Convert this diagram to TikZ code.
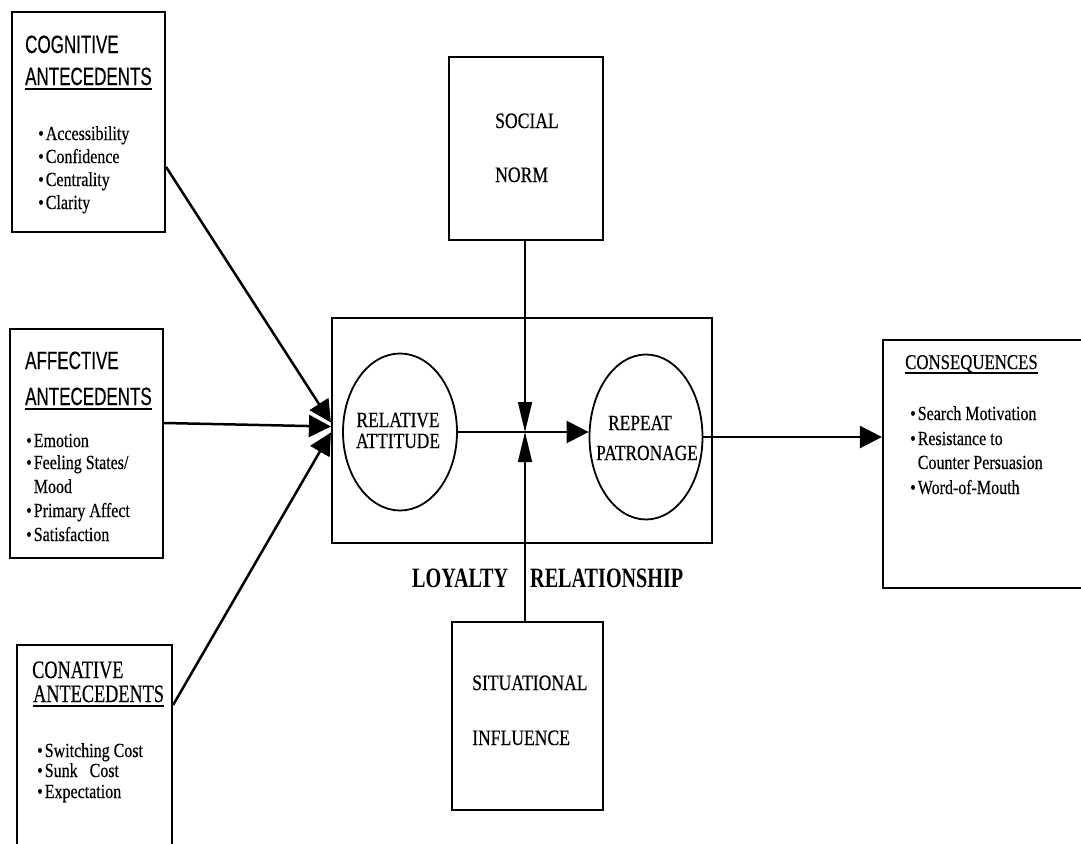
\documentclass[tikz,border=0pt]{standalone}
\usepackage{fontspec}
\setmainfont{Liberation Serif}
\newfontfamily\hsans[FakeStretch=0.68,FakeBold=0.4]{Liberation Sans}
\newfontfamily\tser[FakeStretch=0.8,FakeBold=0.4]{Liberation Serif}
\newfontfamily\tserB[FakeStretch=0.73,FakeBold=0.4]{Liberation Serif}
\newfontfamily\tbold[FakeStretch=0.72]{Liberation Serif}
\usetikzlibrary{arrows.meta,shapes.geometric}
\newcommand{\bul}{\textbullet}
\begin{document}
\begin{tikzpicture}[x=1pt,y=-1pt,
  box/.style={draw,line width=2.2pt,inner sep=0pt,rectangle},
  oval/.style={draw,line width=1.8pt,ellipse,inner sep=0pt},
  head/.style={inner sep=0pt,anchor=base west,font=\hsans\fontsize{25}{25}\selectfont},
  chead/.style={inner sep=0pt,anchor=base west,font=\tserB\fontsize{25}{25}\selectfont},
  item/.style={inner sep=0pt,anchor=base west,font=\tser\fontsize{20}{20}\selectfont},
  midtxt/.style={inner sep=0pt,anchor=base west,font=\tser\fontsize{22}{22}\selectfont},
  lbl/.style={inner sep=0pt,anchor=base,font=\tser\fontsize{21.7}{22}\selectfont},
  big/.style={inner sep=0pt,anchor=base west,font=\tbold\bfseries\fontsize{28}{28}\selectfont},
  arr/.style={line width=2.5pt,-{Triangle[length=22pt,width=22pt]}},
  varr/.style={line width=1.6pt,-{Triangle[length=30pt,width=14pt]}},
  uline/.style={line width=2pt}]
\clip (0,0) rectangle (1081,843);
\fill[white] (0,0) rectangle (1081,843);

% boxes
\node[box,minimum width=153pt,minimum height=220pt] (cog) at (88.5,122) {};
\node[box,minimum width=153pt,minimum height=229pt] (aff) at (86.5,443.5) {};
\node[box,minimum width=155pt,minimum height=225pt] (con) at (94.5,757.5) {};
\node[box,minimum width=217pt,minimum height=248pt] (cons) at (991.5,464) {};
\node[box,minimum width=154pt,minimum height=183pt] (soc) at (526,148.5) {};
\node[box,minimum width=151pt,minimum height=188pt] (sit) at (527.5,716) {};
\node[box,minimum width=380pt,minimum height=225pt] (loy) at (522,430.5) {};
\node[oval,minimum width=114pt,minimum height=157pt] (ra) at (400,432) {};
\node[oval,minimum width=113pt,minimum height=165pt] (rp) at (646,437) {};

% cognitive
\node[head] (cogh1) at (25,53) {COGNITIVE};
\node[head] (cogh2) at (25,85) {ANTECEDENTS};
\draw[uline] ([yshift=-4pt]cogh2.base west) -- ([yshift=-4pt]cogh2.base east);
\foreach \t/\y [count=\i] in {Accessibility/140,Confidence/163,Centrality/186,Clarity/209}
  \node[item] (cogb\i) at (38,\y) {\bul\hspace{2pt}\t};

% affective
\node[head] (affh1) at (25,369) {AFFECTIVE};
\node[head] (affh2) at (25,405) {ANTECEDENTS};
\draw[uline] ([yshift=-4pt]affh2.base west) -- ([yshift=-4pt]affh2.base east);
\node[item] (affb1) at (26,447) {\bul\hspace{2pt}Emotion};
\node[item] (affb2) at (26,469) {\bul\hspace{2pt}Feeling States/};
\node[item] (affb3) at (26,493) {\phantom{\bul}\hspace{2pt}Mood};
\node[item] (affb4) at (26,517) {\bul\hspace{2pt}Primary Affect};
\node[item] (affb5) at (26,541) {\bul\hspace{2pt}Satisfaction};

% conative
\node[chead] (conh1) at (32,678) {CONATIVE};
\node[chead] (conh2) at (33,702) {ANTECEDENTS};
\draw[uline] ([yshift=-4pt]conh2.base west) -- ([yshift=-4pt]conh2.base east);
\node[item] (conb1) at (37,757) {\bul\hspace{2pt}Switching Cost};
\node[item] (conb2) at (37,777) {\bul\hspace{2pt}Sunk\hspace{0.6em}Cost};
\node[item] (conb3) at (37,798) {\bul\hspace{2pt}Expectation};

% consequences
\node[item,font=\tser\fontsize{21}{21}\selectfont] (consh) at (905,369) {CONSEQUENCES};
\draw[uline] ([yshift=-3.5pt]consh.base west) -- ([yshift=-3.5pt]consh.base east);
\node[item] (consb1) at (910,420) {\bul\hspace{2pt}Search Motivation};
\node[item] (consb2) at (910,445) {\bul\hspace{2pt}Resistance to};
\node[item] (consb3) at (910,469) {\phantom{\bul}\hspace{2pt}Counter Persuasion};
\node[item] (consb4) at (910,494) {\bul\hspace{2pt}Word-of-Mouth};

% social norm / situational influence
\node[midtxt] (soct1) at (495,128) {SOCIAL};
\node[midtxt] (soct2) at (495,182) {NORM};
\node[midtxt] (sitt1) at (472,690) {SITUATIONAL};
\node[midtxt] (sitt2) at (472,745) {INFLUENCE};

% ellipse labels
\node[lbl] (rat1) at (398,427) {RELATIVE};
\node[lbl] (rat2) at (398,448) {ATTITUDE};
\node[lbl] (rpt1) at (640,430) {REPEAT};
\node[lbl] (rpt2) at (647,460) {PATRONAGE};

% loyalty relationship
\node[big] (loyt1) at (412,587) {LOYALTY};
\node[big] (loyt2) at (530,587) {RELATIONSHIP};

% connectors
\draw[arr] ([yshift=-45pt]cog.east) -- ([yshift=8pt]loy.west);
\draw[arr] ([yshift=20.5pt]aff.east) -- ([yshift=4pt]loy.west);
\draw[arr] ([yshift=52.5pt]con.east) -- ([yshift=-2pt]loy.west);
\draw[arr] (ra.east) -- (ra.east -| rp.west);
\draw[arr] (rp.east) -- (rp.east -| cons.west);
\coordinate (x) at (525,432);
\draw[varr] (soc.south -| x) -- (x);
\draw[varr] (sit.north -| x) -- (x);
\end{tikzpicture}
\end{document}
